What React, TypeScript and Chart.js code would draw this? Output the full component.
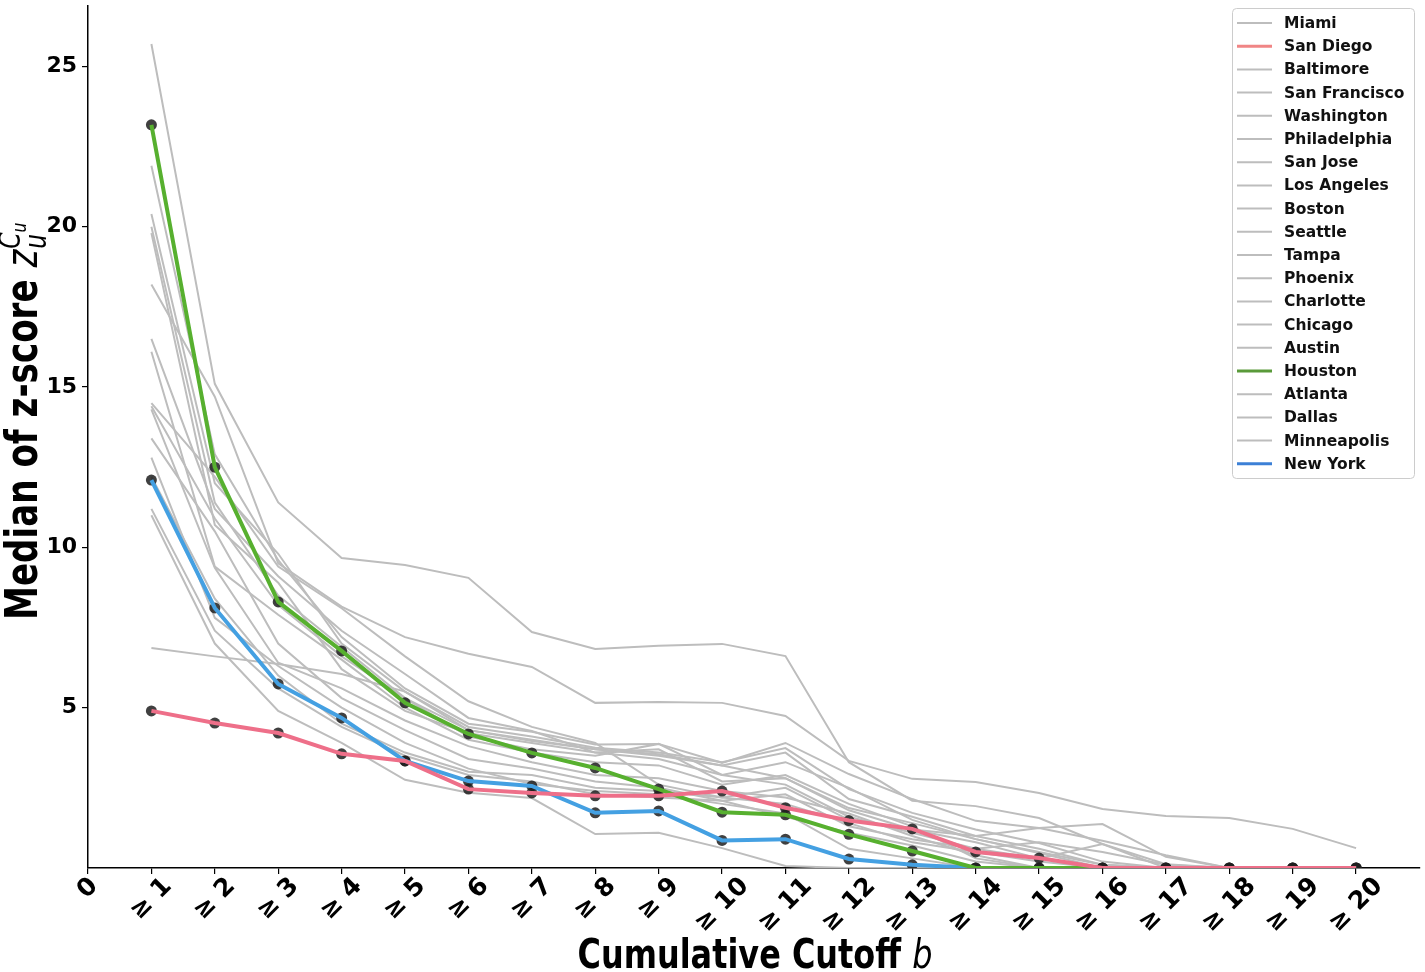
import React, { useEffect, useRef } from 'react';
import { Chart, registerables } from 'chart.js';

Chart.register(...registerables);

const cutoffs = [1, 2, 3, 4, 5, 6, 7, 8, 9, 10, 11, 12, 13, 14, 15, 16, 17, 18, 19, 20];
const tickLabels = ['0', '≥ 1', '≥ 2', '≥ 3', '≥ 4', '≥ 5', '≥ 6', '≥ 7', '≥ 8', '≥ 9', '≥ 10', '≥ 11', '≥ 12', '≥ 13', '≥ 14', '≥ 15', '≥ 16', '≥ 17', '≥ 18', '≥ 19', '≥ 20'];
const yTicks = [5, 10, 15, 20, 25];

const cityNames = ['Miami', 'San Diego', 'Baltimore', 'San Francisco', 'Washington', 'Philadelphia', 'San Jose', 'Los Angeles', 'Boston', 'Seattle', 'Tampa', 'Phoenix', 'Charlotte', 'Chicago', 'Austin', 'Houston', 'Atlanta', 'Dallas', 'Minneapolis', 'New York'];

const miami = [25.7, 15.1, 11.4, 9.67, 9.45, 9.05, 7.36, 6.83, 6.93, 6.99, 6.61, 3.3, 2.1, 1.93, 1.56, 0.75, 0.12, 0, 0, 0];
const sanDiego = [4.9, 4.52, 4.21, 3.56, 3.34, 2.46, 2.34, 2.25, 2.25, 2.4, 1.88, 1.48, 1.22, 0.5, 0.31, 0, 0, 0, 0, 0];
const baltimore = [18.2, 14.7, 9.5, 8.15, 7.2, 6.68, 6.27, 5.15, 5.18, 5.15, 4.74, 3.34, 2.78, 2.68, 2.34, 1.84, 1.62, 1.56, 1.22, 0.62];
const sanFrancisco = [21.9, 12.9, 9.6, 7.2, 5.6, 4.5, 4.25, 3.85, 3.87, 3.28, 3.9, 2.93, 2.15, 1.47, 1.25, 1.37, 0.35, 0, 0, 0];
const washington = [20.4, 12.0, 9.8, 7.0, 5.5, 4.4, 4.1, 3.75, 3.6, 3.3, 3.74, 2.46, 1.72, 1.2, 0.78, 0.2, 0, 0, 0, 0];
const philadelphia = [20.0, 11.4, 8.5, 6.9, 5.3, 4.3, 3.96, 3.7, 3.55, 3.2, 3.6, 2.15, 1.6, 1.0, 0.6, 0.1, 0, 0, 0, 0];
const sanJose = [19.8, 10.7, 8.9, 6.2, 4.9, 4.2, 3.9, 3.6, 3.7, 2.7, 2.8, 1.87, 1.4, 0.9, 0.47, 0, 0, 0, 0, 0];
const losAngeles = [16.5, 11.2, 9.1, 7.4, 6.05, 4.68, 4.27, 3.6, 3.4, 2.9, 2.6, 1.6, 1.1, 0.6, 0.3, 0.75, 0, 0, 0, 0];
const boston = [16.1, 9.4, 7.9, 6.5, 5.0, 4.0, 3.6, 3.3, 3.2, 2.6, 2.9, 2.0, 1.3, 0.3, 0, 0, 0, 0, 0, 0];
const seattle = [14.5, 12.2, 9.4, 8.1, 6.6, 5.2, 4.4, 3.9, 2.6, 2.2, 2.0, 1.4, 0.8, 0.5, 0.2, 0, 0, 0, 0, 0];
const tampa = [14.3, 9.36, 6.4, 5.6, 4.6, 3.8, 3.3, 2.9, 2.8, 2.4, 2.2, 1.7, 1.0, 0.4, 0, 0, 0, 0, 0, 0];
const phoenix = [13.4, 10.5, 7.0, 5.3, 4.3, 3.4, 3.1, 2.7, 2.5, 2.1, 1.6, 1.1, 0.7, 0.2, 0, 0, 0, 0, 0, 0];
const charlotte = [12.8, 7.8, 6.3, 5.0, 3.9, 3.1, 2.62, 2.4, 2.3, 2.0, 1.7, 0.6, 0.3, 0, 0, 0, 0, 0, 0, 0];
const chicago = [11.0, 7.0, 4.9, 3.9, 2.75, 2.35, 2.18, 1.06, 1.1, 0.62, 0.06, 0, 0, 0, 0, 0, 0, 0, 0, 0];
const austin = [6.86, 6.6, 6.36, 6.05, 5.5, 4.3, 4.0, 3.7, 3.5, 3.2, 2.8, 1.8, 1.2, 0.8, 0.3, 0, 0, 0, 0, 0];
const houston = [23.18, 12.5, 8.3, 6.77, 5.15, 4.18, 3.59, 3.12, 2.46, 1.74, 1.66, 1.05, 0.53, 0, 0, 0, 0, 0, 0, 0];
const atlanta = [14.4, 10.9, 8.2, 6.6, 5.3, 4.1, 3.7, 3.5, 3.87, 2.9, 3.3, 2.5, 1.5, 0.9, 0.5, 0.1, 0, 0, 0, 0];
const dallas = [12.2, 8.4, 6.0, 4.5, 3.6, 3.0, 2.9, 2.5, 2.4, 2.2, 2.5, 1.5, 1.2, 1.0, 1.25, 0.85, 0.4, 0, 0, 0];
const minneapolis = [11.2, 7.4, 5.6, 4.4, 3.5, 2.9, 2.7, 2.3, 2.2, 2.1, 2.3, 1.3, 0.9, 0.6, 0.8, 0.5, 0.1, 0, 0, 0];
const newYork = [12.1, 8.11, 5.74, 4.68, 3.34, 2.71, 2.56, 1.72, 1.78, 0.86, 0.9, 0.28, 0.1, 0, 0, 0, 0, 0, 0, 0];

const cityValues = [miami, sanDiego, baltimore, sanFrancisco, washington, philadelphia, sanJose, losAngeles, boston, seattle, tampa, phoenix, charlotte, chicago, austin, houston, atlanta, dallas, minneapolis, newYork];

const GRAY = '#bdbdbd';
const highlight: Record<string, { line: string; legend: string }> = {
  'San Diego': { line: '#ee6f89', legend: '#f08585' },
  'Houston': { line: '#57b02f', legend: '#5a9a3a' },
  'New York': { line: '#44a0e2', legend: '#3c80d6' },
};

const FONT = '"DejaVu Sans", sans-serif';

const toPts = (vals: number[]) => vals.map((v, i) => ({ x: cutoffs[i], y: v }));

const decorPlugin = {
  id: 'decor',
  afterDraw(chart: any) {
    const ctx = chart.ctx as CanvasRenderingContext2D;

    // X tick labels, centred on ticks and rotated 45 degrees
    const xs = chart.scales.x;
    ctx.save();
    ctx.fillStyle = '#000';
    ctx.font = `bold 25px ${FONT}`;
    ctx.textAlign = 'center';
    ctx.textBaseline = 'middle';
    tickLabels.forEach((lab, i) => {
      const w = ctx.measureText(lab).width;
      const h = 18;
      const bboxH = (w + h) * Math.SQRT1_2;
      const cx = xs.getPixelForValue(i);
      const cy = 876 + bboxH / 2;
      ctx.save();
      ctx.translate(cx, cy);
      ctx.rotate(-Math.PI / 4);
      ctx.fillText(lab, 0, 0);
      ctx.restore();
    });
    ctx.restore();

    // X title
    ctx.save();
    ctx.fillStyle = '#000';
    ctx.textBaseline = 'alphabetic';
    ctx.textAlign = 'left';
    const p1 = 'Cumulative Cutoff ';
    ctx.font = `bold 40px ${FONT}`;
    const w1 = ctx.measureText(p1).width;
    ctx.font = `italic 40px ${FONT}`;
    const wb = ctx.measureText('b').width;
    const targetX = 355;
    const sx = targetX / (w1 + wb);
    ctx.translate(755 - targetX / 2, 968);
    ctx.scale(sx, 1);
    ctx.font = `bold 40px ${FONT}`;
    ctx.fillText(p1, 0, 0);
    ctx.font = `italic 40px ${FONT}`;
    ctx.fillText('b', w1, 0);
    ctx.restore();

    // Y title
    ctx.save();
    ctx.fillStyle = '#000';
    ctx.textBaseline = 'alphabetic';
    ctx.textAlign = 'left';
    const t1 = 'Median of z-score ';
    ctx.font = `bold 44px ${FONT}`;
    const a1 = ctx.measureText(t1).width;
    ctx.font = `italic 44px ${FONT}`;
    const az = ctx.measureText('z').width;
    ctx.font = `italic 30px ${FONT}`;
    const aC = ctx.measureText('C').width;
    const aU = ctx.measureText('u').width;
    ctx.font = `italic 20px ${FONT}`;
    const au = ctx.measureText('u').width;
    const total = a1 + az + Math.max(aC + au, aU) + 2;
    const targetY = 398;
    const sy = targetY / total;
    ctx.translate(37, 620);
    ctx.rotate(-Math.PI / 2);
    ctx.scale(sy, 1);
    ctx.font = `bold 44px ${FONT}`;
    ctx.fillText(t1, 0, 0);
    ctx.font = `italic 44px ${FONT}`;
    ctx.fillText('z', a1, 0);
    ctx.font = `italic 30px ${FONT}`;
    ctx.fillText('C', a1 + az + 1, -17);
    ctx.fillText('u', a1 + az + 1, 9);
    ctx.font = `italic 20px ${FONT}`;
    ctx.fillText('u', a1 + az + 1 + aC, -11);
    ctx.restore();

    // Legend
    ctx.save();
    const bx = 1232.5, by = 8.5, bw = 182, bh = 470;
    ctx.beginPath();
    ctx.roundRect(bx, by, bw, bh, 4);
    ctx.fillStyle = 'rgba(255,255,255,0.85)';
    ctx.fill();
    ctx.strokeStyle = '#cccccc';
    ctx.lineWidth = 1;
    ctx.stroke();
    ctx.font = `bold 15.5px ${FONT}`;
    ctx.textBaseline = 'middle';
    ctx.textAlign = 'left';
    cityNames.forEach((name, i) => {
      const y = 23 + i * 23.2;
      const h = highlight[name];
      ctx.beginPath();
      ctx.moveTo(1237, y);
      ctx.lineTo(1272, y);
      ctx.strokeStyle = h ? h.legend : GRAY;
      ctx.lineWidth = h ? 3 : 2;
      ctx.stroke();
      ctx.fillStyle = '#111';
      ctx.fillText(name, 1284, y + 1);
    });
    ctx.restore();
  },
};

export default function App() {
  const ref = useRef<HTMLCanvasElement | null>(null);

  useEffect(() => {
    if (!ref.current) return;
    const datasets: any[] = [];
    cityNames.forEach((name, i) => {
      const h = highlight[name];
      if (!h) {
        datasets.push({
          label: name,
          data: toPts(cityValues[i]),
          borderColor: GRAY,
          borderWidth: 2,
          pointRadius: 0,
          fill: false,
          order: 10,
        });
      }
    });
    cityNames.forEach((name, i) => {
      const h = highlight[name];
      if (h) {
        datasets.push({
          label: name + ' markers',
          data: toPts(cityValues[i]),
          showLine: false,
          pointRadius: 5.5,
          pointBackgroundColor: 'rgba(30,30,30,0.85)',
          pointBorderColor: 'rgba(30,30,30,0.85)',
          pointBorderWidth: 0,
          order: 5,
        });
        datasets.push({
          label: name,
          data: toPts(cityValues[i]),
          borderColor: h.line,
          borderWidth: 4,
          pointRadius: 0,
          fill: false,
          order: 0,
        });
      }
    });

    const chart = new Chart(ref.current, {
      type: 'line',
      data: { datasets },
      options: {
        responsive: false,
        animation: false,
        devicePixelRatio: 1,
        layout: { padding: { left: 0, right: 3, top: 0, bottom: 0 } },
        plugins: {
          legend: { display: false },
          tooltip: { enabled: false },
          title: { display: false },
        },
        scales: {
          x: {
            type: 'linear',
            min: 0,
            max: 21,
            afterBuildTicks: (scale: any) => {
              scale.ticks = tickLabels.map((_, i) => ({ value: i }));
            },
            afterFit: (scale: any) => {
              scale.height = 104;
              scale.paddingLeft = 0;
              scale.paddingRight = 0;
            },
            ticks: {
              display: false,
              autoSkip: false,
              maxRotation: 0,
            },
            grid: {
              display: true,
              drawOnChartArea: false,
              drawTicks: true,
              tickLength: 6,
              color: '#000',
              lineWidth: 1.2,
            },
            border: { display: true, color: '#000', width: 1.5 },
          },
          y: {
            type: 'linear',
            min: 0,
            max: 26.9,
            afterBuildTicks: (scale: any) => {
              scale.ticks = yTicks.map((v) => ({ value: v }));
            },
            afterFit: (scale: any) => {
              scale.width = 88;
              scale.paddingTop = 0;
              scale.paddingBottom = 0;
            },
            ticks: {
              padding: 5,
              color: '#000',
              font: { family: FONT, weight: 'bold', size: 22 },
              callback: (v: any) => String(v),
            },
            grid: {
              display: true,
              drawOnChartArea: false,
              drawTicks: true,
              tickLength: 6,
              color: '#000',
              lineWidth: 1.2,
            },
            border: { display: true, color: '#000', width: 1.5 },
          },
        },
      } as any,
      plugins: [decorPlugin],
    });
    return () => chart.destroy();
  }, []);

  return (
    <div style={{ position: 'absolute', left: 0, top: 0, width: 1425, height: 972, background: '#fff' }}>
      <canvas ref={ref} width={1425} height={972} style={{ display: 'block', width: 1425, height: 972 }} />
    </div>
  );
}
